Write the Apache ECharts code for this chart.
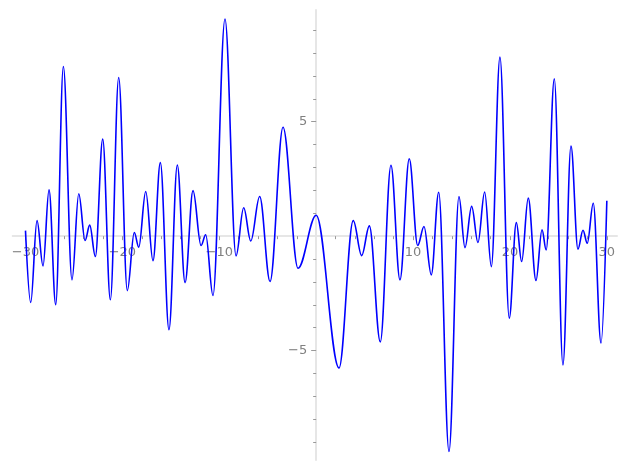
<!DOCTYPE html>
<html>
<head>
<meta charset="utf-8">
<script src="https://cdn.jsdelivr.net/npm/echarts@6/dist/echarts.min.js"></script>
<style>html,body{margin:0;padding:0;background:#fff}#c{width:627px;height:470px}</style>
</head>
<body>
<div id="c"></div>
<script>
// Curve extrema (x, y)
const xs = [-30, -29.46, -28.81, -28.19, -27.57, -26.88, -26.09, -25.20, -24.50, -23.85,
  -23.37, -22.79, -22.03, -21.24, -20.38, -19.49, -18.77, -18.31, -17.59, -16.84,
  -16.08, -15.19, -14.33, -13.53, -12.71, -11.88, -11.40, -10.65, -9.41, -8.27,
  -7.48, -6.75, -5.83, -4.76, -3.42, -1.87, 0.0, 2.36, 3.83, 4.70,
  5.49, 6.62, 7.72, 8.65, 9.61, 10.48, 11.13, 11.88, 12.65, 13.71,
  14.74, 15.36, 16.05, 16.70, 17.39, 18.08, 18.97, 19.93, 20.66, 21.21,
  21.89, 22.69, 23.31, 23.74, 24.58, 25.47, 26.30, 27.02, 27.54, 27.98,
  28.60, 29.40, 30];
const ys = [0.24, -2.90, 0.68, -1.30, 2.02, -2.99, 7.41, -1.91, 1.85, -0.19,
  0.48, -0.89, 4.24, -2.78, 6.93, -2.38, 0.16, -0.48, 1.95, -1.07,
  3.21, -4.09, 3.11, -2.03, 1.99, -0.41, 0.06, -2.59, 9.49, -0.86,
  1.24, -0.21, 1.73, -1.98, 4.76, -1.40, 0.91, -5.76, 0.68, -0.85,
  0.45, -4.62, 3.10, -1.91, 3.38, -0.41, 0.42, -1.69, 1.92, -9.41,
  1.73, -0.50, 1.30, -0.28, 1.93, -1.33, 7.82, -3.58, 0.59, -1.11,
  1.66, -1.94, 0.28, -0.60, 6.87, -5.63, 3.94, -0.57, 0.26, -0.31,
  1.44, -4.67, 1.55];

const xMajorTicks = [-30, -20, -10, 10, 20, 30];
const xMinorTicks = [-28, -26, -24, -22, -18, -16, -14, -12, -8, -6, -4, -2,
  2, 4, 6, 8, 12, 14, 16, 18, 22, 24, 26, 28];
const yMajorTicks = [-5, 5];
const yMinorTicks = [-9, -8, -7, -6, -4, -3, -2, -1, 1, 2, 3, 4, 6, 7, 8, 9];

const X_MIN = -31.32, X_MAX = 31.05, Y_MIN = -9.78, Y_MAX = 9.88;

// plot box in pixels, and where the zero lines fall inside it
const PL = 12.7, PR = 10, PT = 10, PB = 10, W = 627, H = 470;
const zeroX = PL + (0 - X_MIN) / (X_MAX - X_MIN) * (W - PL - PR);
const zeroY = PT + (Y_MAX - 0) / (Y_MAX - Y_MIN) * (H - PT - PB);

const fmt = v => (v < 0 ? '\u2212' + (-v) : String(v));
const labelStyle = { color: '#808080', fontFamily: 'DejaVu Sans', fontSize: 13 };
const tickColor = '#999999';
const lineCol = '#e6e6e6';
const g = (l, r, t, b) => ({ left: l, right: r, top: t, bottom: b, containLabel: false, outerBoundsMode: 'none' });
const hiddenAxis = (gi, mn, mx) => ({ type: 'value', gridIndex: gi, min: mn, max: mx, show: false,
  axisLine: { show: false, onZero: false }, axisTick: { show: false }, axisLabel: { show: false }, splitLine: { show: false } });

const chart = echarts.init(document.getElementById('c'), null, { renderer: 'canvas' });
chart.setOption({
  animation: false,
  backgroundColor: '#ffffff',
  grid: [
    g(PL, PR, PT, PB),            // 0: data
    g(PL, PR, PT, H - zeroY),     // 1: x axis (major + labels), bottom edge on y = 0
    g(PL, PR, PT, H - zeroY),     // 2: x minor ticks
    g(zeroX, PR, PT, PB),         // 3: y axis (major + labels), left edge on x = 0
    g(zeroX, PR, PT, PB)          // 4: y minor ticks
  ],
  xAxis: [
    hiddenAxis(0, X_MIN, X_MAX),
    {
      type: 'value', gridIndex: 1, min: X_MIN, max: X_MAX, position: 'bottom',
      axisLine: { show: true, onZero: false, lineStyle: { color: lineCol, width: 2 } },
      axisTick: { show: true, customValues: xMajorTicks, length: 4, lineStyle: { color: tickColor, width: 1 } },
      axisLabel: Object.assign({ show: true, customValues: xMajorTicks, formatter: fmt, margin: 10 }, labelStyle),
      splitLine: { show: false }
    },
    {
      type: 'value', gridIndex: 2, min: X_MIN, max: X_MAX, position: 'bottom',
      axisLine: { show: false, onZero: false },
      axisTick: { show: true, customValues: xMinorTicks, length: 3, lineStyle: { color: tickColor, width: 1 } },
      axisLabel: { show: false },
      splitLine: { show: false }
    },
    hiddenAxis(3, 0, 1),
    hiddenAxis(4, 0, 1)
  ],
  yAxis: [
    hiddenAxis(0, Y_MIN, Y_MAX),
    hiddenAxis(1, 0, 1),
    hiddenAxis(2, 0, 1),
    {
      type: 'value', gridIndex: 3, min: Y_MIN, max: Y_MAX, position: 'left',
      axisLine: { show: true, onZero: false, lineStyle: { color: lineCol, width: 2 } },
      axisTick: { show: true, customValues: yMajorTicks, length: 5, lineStyle: { color: tickColor, width: 1 } },
      axisLabel: Object.assign({ show: true, customValues: yMajorTicks, formatter: fmt, margin: 9 }, labelStyle),
      splitLine: { show: false }
    },
    {
      type: 'value', gridIndex: 4, min: Y_MIN, max: Y_MAX, position: 'left',
      axisLine: { show: false, onZero: false },
      axisTick: { show: true, customValues: yMinorTicks, length: 3, lineStyle: { color: tickColor, width: 1 } },
      axisLabel: { show: false },
      splitLine: { show: false }
    }
  ],
  series: [{
    type: 'line',
    xAxisIndex: 0, yAxisIndex: 0,
    data: xs.map((x, i) => [x, ys[i]]),
    showSymbol: false,
    smooth: 0.36,
    smoothMonotone: 'x',
    lineStyle: { color: '#0000ff', width: 1.6 },
    z: 10
  }]
});
</script>
</body>
</html>
